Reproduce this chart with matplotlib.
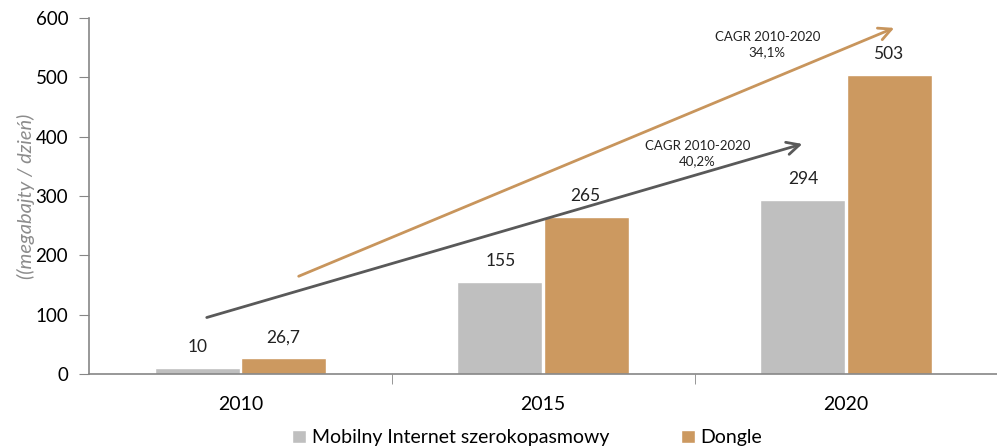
import numpy as np
import matplotlib
matplotlib.use("Agg")
import matplotlib.pyplot as plt

years = ["2010", "2015", "2020"]
mobile = [10, 155, 294]
dongle = [26.7, 265, 503]
mobile_labels = ["10", "155", "294"]
dongle_labels = ["26,7", "265", "503"]

GRAY = "#BFBFBF"
ORANGE = "#CC9960"
plt.rcParams['font.family'] = ['Lato', 'DejaVu Sans']

fig = plt.figure(figsize=(9.97, 4.48), dpi=100)
ax = fig.add_axes([0.0893, 0.165, 0.911, 0.795])

x = np.arange(len(years))
w = 0.28
b1 = ax.bar(x - w / 2 - 0.003, mobile, w, color=GRAY, edgecolor="white", linewidth=1,
            label="Mobilny Internet szerokopasmowy")
b2 = ax.bar(x + w / 2 + 0.003, dongle, w, color=ORANGE, edgecolor="white", linewidth=1,
            label="Dongle")

for xi, v, t in zip(x - w / 2, mobile, mobile_labels):
    ax.text(xi, v + 22, t, ha="center", va="bottom", fontsize=12.5, color="#222222")
for xi, v, t in zip(x + w / 2, dongle, dongle_labels):
    ax.text(xi, v + 22, t, ha="center", va="bottom", fontsize=12.5, color="#222222")

# CAGR arrows
ax.annotate("", xy=(1.865, 389), xytext=(-0.12, 94),
            arrowprops=dict(arrowstyle="->,head_length=0.9,head_width=0.45", color="#595959", lw=2))
ax.annotate("", xy=(2.168, 585), xytext=(0.184, 163),
            arrowprops=dict(arrowstyle="->,head_length=0.9,head_width=0.45", color="#C8955C", lw=2))
ax.text(1.51, 372, "CAGR 2010-2020\n40,2%", ha="center", va="center", fontsize=9.5,
        color="#222222", linespacing=1.3)
ax.text(1.74, 555, "CAGR 2010-2020\n34,1%", ha="center", va="center", fontsize=9.5,
        color="#222222", linespacing=1.3)

ax.set_xlim(-0.5, 2.5)
ax.set_ylim(0, 600)
ax.set_yticks(range(0, 601, 100))
ax.set_xticks(x)
ax.set_xticklabels(years)
ax.set_xticks([0.5, 1.5], minor=True)
ax.tick_params(axis="x", which="major", length=0, pad=16, labelsize=14)
ax.tick_params(axis="x", which="minor", length=7, color="#868686")
ax.tick_params(axis="y", length=7, color="#868686", labelsize=13.5, pad=8)
for s in ["top", "right"]:
    ax.spines[s].set_visible(False)
for s in ["left", "bottom"]:
    ax.spines[s].set_color("#868686")
    ax.spines[s].set_linewidth(1.2)

ax.set_ylabel("((megabajty / dzień)", fontsize=14.5, style="italic", color="#8C8C8C", labelpad=0)

fig.legend(handles=[b1, b2], loc="lower center", bbox_to_anchor=(0.529, -0.035), ncol=2,
           frameon=False, fontsize=14, handlelength=0.7, handleheight=0.7,
           columnspacing=3.7, handletextpad=0.3)

fig.savefig("out.png", dpi=100)
